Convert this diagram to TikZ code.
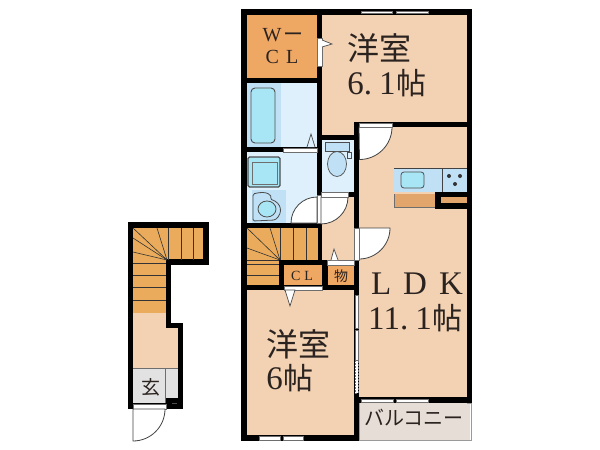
\documentclass[tikz,border=0pt]{standalone}
\usepackage{fontspec}
\setmainfont{Liberation Serif}
\newfontfamily\cjk{Noto Sans CJK JP}
\definecolor{peach}{HTML}{F3D2B3}
\definecolor{orng}{HTML}{EFA764}
\definecolor{stair}{HTML}{EAAC5C}
\definecolor{wetb}{HTML}{BFE0F5}
\definecolor{wetl}{HTML}{DDF0FC}
\definecolor{tub}{HTML}{A8E6F5}
\definecolor{cnt}{HTML}{E2A56C}
\definecolor{gry}{HTML}{E2E2E2}
\definecolor{balc}{HTML}{E6DDD6}
\definecolor{ink}{HTML}{2B2320}
\definecolor{ln}{HTML}{6E6E6E}
\tikzset{
 wall/.style={fill=black},
 win/.style={fill=white,draw=ln,line width=.5pt},
 swing/.style={draw=ln!60!black,line width=.8pt,fill=white},
 fix/.style={draw=ln!70!black,line width=.8pt,rounded corners=1.5pt},
 tread/.style={draw=black!80,line width=.6pt},
 big/.style={text=ink,inner sep=0pt,font=\fontsize{33}{33}\selectfont},
 mid/.style={text=ink,inner sep=0pt,font=\fontsize{20}{20}\selectfont},
 small/.style={text=ink,inner sep=0pt,font=\fontsize{14}{14}\selectfont},
 jp/.style={text=ink,inner sep=0pt,font=\fontsize{32}{32}\selectfont},
}
\newcommand\hatsu{{\cjk\fontsize{30}{30}\selectfont 帖}}
\begin{document}
\begin{tikzpicture}[x=1pt,y=-1pt]
\useasboundingbox (0,0) rectangle (600,450);
\fill[white] (0,0) rectangle (600,450);
%% main block walls as black mass
\fill[wall] (241,9) rectangle (472,403);
\fill[wall] (241,403) rectangle (359,441);
%% rooms
\fill[orng] (247,15) rectangle (317,78);
\fill[peach] (322,15) rectangle (467,122);
\fill[peach] (359,127) rectangle (467,397);
\fill[peach] (247,290) rectangle (354,435);
\fill[peach] (322,197) rectangle (354,260);
\fill[peach] (322,122) rectangle (354,135);
\fill[wetl] (247,83) rectangle (317,147);
\fill[wetb] (247,83) rectangle (281,147);
\fill[wetl] (247,152) rectangle (317,223);
\fill[wetb] (252,190) rectangle (286,223);
\fill[wetl] (322,140) rectangle (354,192);
\fill[stair] (247,228) rectangle (318,260);
\fill[stair] (247,260) rectangle (279,285);
\fill[orng] (284,265) rectangle (322,285);
\fill[orng] (328,265) rectangle (354,285);
%% stair treads main
\foreach \a in {280,293,306}{\draw[tread] (\a,228) -- (\a,260);}
\draw[tread] (280,260) -- (247,228);
\draw[tread] (280,260) -- (247,248);
\draw[tread] (280,260) -- (270,228);
\draw[tread] (247,264) -- (279,264);
\draw[tread] (247,275) -- (279,275);
\draw[tread] (247,260) -- (279,260);
%% doors
\fill[white] (317,38) rectangle (322,66); \draw[ln,line width=.4pt] (317,38) rectangle (322,66);
\draw[ln!70!black,fill=white,line width=.7pt] (322,40) -- (332,44) -- (322,47);
\draw[swing] (359,127) -- (392,127) arc[start angle=0,end angle=90,radius=32.5] -- cycle;
\fill[white] (359,123) rectangle (392,127);\draw[ln,line width=.4pt] (359,123) rectangle (392,127);
\draw[swing] (359,260) -- (359,228) -- (390,228) arc[start angle=0,end angle=90,radius=31] -- cycle;
\fill[white] (354,228) rectangle (359,260);\draw[ln,line width=.4pt] (354,228) rectangle (359,260);
\draw[swing] (317,223) -- (291,223) arc[start angle=180,end angle=270,radius=26] -- cycle;
\fill[white] (317,195) rectangle (322,223);\draw[ln,line width=.4pt] (317,195) rectangle (322,223);
\draw[swing] (321,197) -- (348,197) arc[start angle=0,end angle=90,radius=27] -- cycle;
\fill[white] (321,192) rectangle (348,197);\draw[ln,line width=.4pt] (321,192) rectangle (348,197);
\fill[white] (283,148) rectangle (317,152);\draw[ln,line width=.4pt] (283,148) rectangle (317,152);
\draw[ln!70!black,fill=wetl,line width=.7pt] (307,147) -- (311,134) -- (315,147);
\fill[white] (327,260) rectangle (354,265);\draw[ln,line width=.4pt] (327,260) rectangle (354,265);
\draw[ln!70!black,fill=white,line width=.7pt] (331,260) -- (334,249) -- (338,260);
\fill[white] (284,286) rectangle (322,290);\draw[ln,line width=.4pt] (284,286) rectangle (322,290);
\draw[ln!70!black,fill=white,line width=.7pt] (285,290) -- (290,306) -- (295,290) -- cycle;
%% windows
\draw[win] (361,11) rectangle (392,13); \draw[win] (396,11) rectangle (428,13);
\draw[win] (361,399) rectangle (393,402); \draw[win] (396,399) rectangle (428,402);
\draw[win] (259,436) rectangle (280,440); \draw[win] (283,436) rectangle (303,440);
\draw[win] (355,295) rectangle (358,328); \draw[win] (355,330) rectangle (358,360); \draw[win,dash pattern=on 2pt off 1pt] (355,360) rectangle (358,393);
%% tub
\draw[fix,fill=tub,line width=.9pt,rounded corners=4pt] (251,88) rectangle (275,143);
%% wash
\draw[fix,fill=tub,line width=1.4pt] (248,157) rectangle (280,187);
\draw[ln,line width=.5pt] (252,162) rectangle (277,184);
\draw[fix,fill=wetb] (253,194) .. controls (268,190) and (272,196) .. (270,199) .. controls (282,203) and (283,213) .. (275,220) -- (253,221) -- cycle;
\draw[ln!70!black,fill=tub,line width=.8pt] (267,209) ellipse[x radius=9,y radius=8];
%% toilet
\draw[ln!70!black,fill=wetb,line width=.7pt] (325,142) rectangle (349,151);
\draw[ln!70!black,fill=wetb,line width=.7pt] (337,164) ellipse[x radius=9.5,y radius=12.5];
\draw[ln!70!black,fill=wetl,line width=.6pt] (347,152) rectangle (351,158);
%% kitchen
\fill[wetb] (394,168) rectangle (467,192);
\draw[ln!60!black,line width=.5pt] (394,168) -- (467,168) (442,168) -- (442,192);
\draw[fix,fill=tub,rounded corners=3pt] (401,172) rectangle (424,188);
\foreach \p/\q in {449/176,460/176,455/184}{\fill[black!80] (\p,\q) circle[radius=2];}
\fill[cnt] (394,194) rectangle (435,207);\draw[ln,line width=.4pt] (394,194) -- (394,207) -- (435,207);
\fill[black] (435,192) rectangle (467,209);
\fill[cnt] (441,197) rectangle (467,203);
%% balcony
\fill[balc] (359,403) rectangle (470,440);
\draw[ln!70!white,line width=.9pt] (359,403) -- (359,440.5) -- (471,440.5) -- (471,403) -- (467,403);
%% entry block
\fill[wall] (128,222) rectangle (209,265);
\fill[wall] (128,265) rectangle (171,409);
\fill[wall] (166,323) rectangle (183,409);
\fill[stair] (133,228) rectangle (203,259);
\fill[stair] (133,259) rectangle (166,313);
\fill[peach] (133,313) rectangle (166,368);
\fill[peach] (166,328) rectangle (178,368);
\fill[gry] (133,368) rectangle (178,403);
\fill[black] (166,398) rectangle (178,405);
\fill[gry] (133,369) rectangle (165,403);
\draw[ln,line width=.5pt] (133,368) -- (178,368) (165.5,368) -- (165.5,403);
\fill[white] (133,404) rectangle (166,409);\draw[ln,line width=.4pt] (133,404) rectangle (166,409);
\foreach \a in {168,181,193}{\draw[tread] (\a,228) -- (\a,260);}
\draw[tread] (167,260) -- (133,228);
\draw[tread] (167,260) -- (133,238);
\draw[tread] (167,260) -- (133,252);
\draw[tread] (167,260) -- (157,228);
\foreach \b in {263,275,287,300}{\draw[tread] (133,\b) -- (166,\b);}
\draw[swing] (133,409) -- (165,409) arc[start angle=0,end angle=90,radius=32] -- cycle;
\fill[black!70] (172,403) rectangle (177,404);
%% labels
\node[jp] (y1) at (379,48) {\cjk 洋室};
\node[big] (s1) at (387,83) {6.\hspace{7pt}1\hspace{1pt}\hatsu};
\node[mid] (w1) at (283,35) {W\hspace{2pt}{\cjk ー}};
\node[mid] (w2) at (282,57) {C\hspace{7pt}L};
\node[big] (l1) at (417,284) {L\hspace{12pt}D\hspace{12pt}K};
\node[big] (s2) at (415.5,318) {11.\hspace{7pt}1\hspace{1pt}\hatsu};
\node[jp] (y2) at (298,344) {\cjk 洋室};
\node[big] (s3) at (290,378) {6\hspace{1pt}\hatsu};
\node[small] (c2) at (302,276) {C\hspace{4pt}L};
\node[small] (m1) at (341,276) {\cjk 物};
\node[text=ink,inner sep=0pt,font=\fontsize{20}{20}\selectfont] (b1) at (414,418) {\cjk バルコニー};
\node[text=ink,inner sep=0pt,font=\fontsize{19}{19}\selectfont] (g1) at (151,387) {\cjk 玄};
\end{tikzpicture}
\end{document}
